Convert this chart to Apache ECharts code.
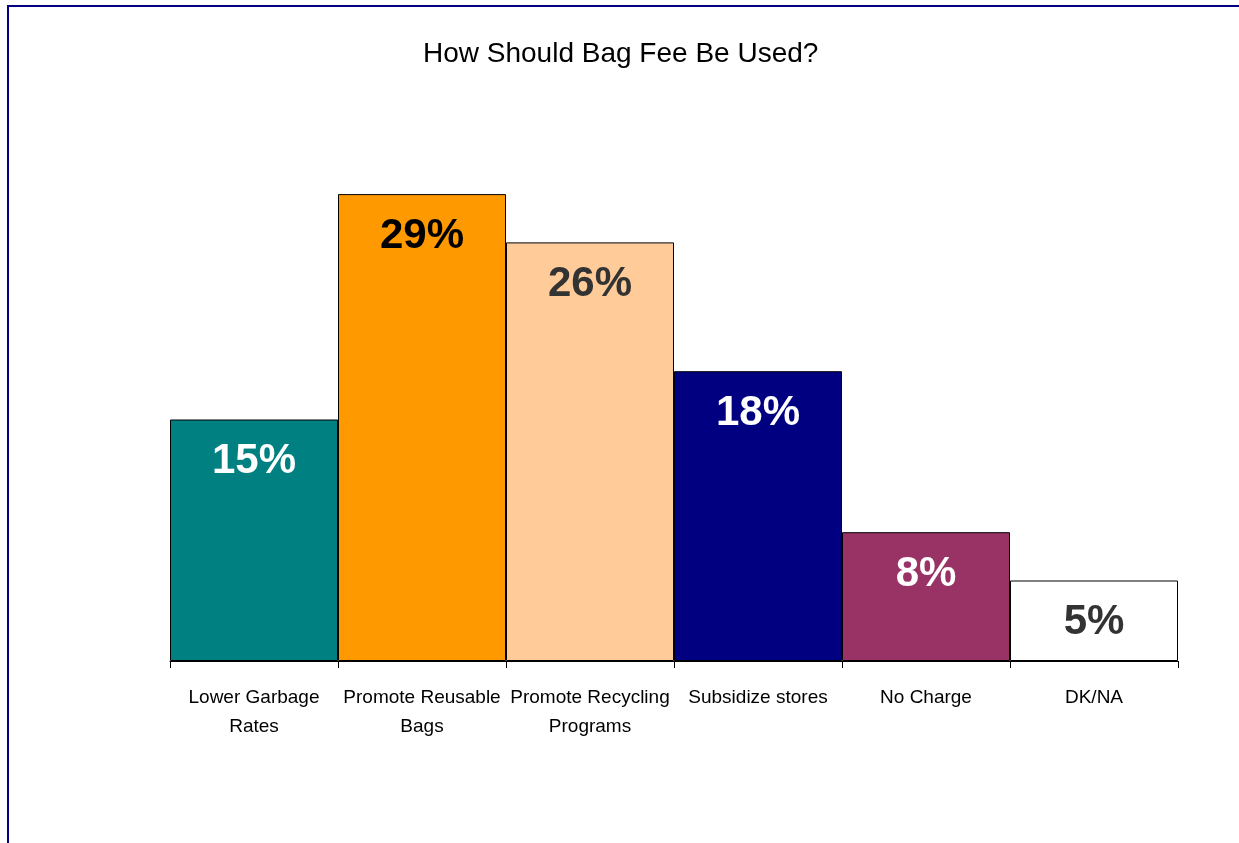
<!DOCTYPE html>
<html>
<head>
<meta charset="utf-8">
<script src="https://cdn.jsdelivr.net/npm/echarts@6/dist/echarts.min.js"></script>
<style>
  html, body { margin: 0; padding: 0; background: #fff; }
  #chart { width: 1239px; height: 843px; }
</style>
</head>
<body>
<div id="chart"></div>
<script>
// Survey answers: how the bag fee should be spent
const categories = ['Lower Garbage\nRates', 'Promote Reusable\nBags', 'Promote Recycling\nPrograms', 'Subsidize stores', 'No Charge', 'DK/NA'];
const shares = [15, 29, 26, 18, 8, 5];
const barColors = ['#008080', '#FF9900', '#FFCC99', '#000080', '#993366', '#FFFFFF'];
const labelColors = ['#FFFFFF', '#000000', '#333333', '#FFFFFF', '#FFFFFF', '#333333'];

const chart = echarts.init(document.getElementById('chart'), null, { renderer: 'canvas' });

chart.setOption({
  backgroundColor: '#FFFFFF',
  animation: false,
  title: {
    text: 'How Should Bag Fee Be Used?',
    left: 423,
    top: 40,
    padding: 0,
    textStyle: { fontFamily: 'Liberation Sans, Arial, sans-serif', fontSize: 28, fontWeight: 'normal', color: '#000' }
  },
  graphic: [{
    type: 'rect',
    shape: { x: 8, y: 6, width: 1400, height: 1000 },
    style: { fill: 'none', stroke: '#000080', lineWidth: 2 },
    silent: true
  }],
  grid: { left: 170, right: 61, top: 178, bottom: 182 },
  xAxis: {
    type: 'category',
    data: categories,
    axisLine: { lineStyle: { color: '#000', width: 1 } },
    axisTick: { show: true, length: 7, lineStyle: { color: '#000' } },
    axisLabel: {
      interval: 0,
      margin: 22,
      lineHeight: 29,
      fontFamily: 'Liberation Sans, Arial, sans-serif',
      fontSize: 19,
      color: '#000'
    }
  },
  yAxis: {
    type: 'value',
    min: 0,
    max: 30,
    show: false,
    splitLine: { show: false }
  },
  series: [{
    type: 'bar',
    barCategoryGap: 0,
    data: shares.map((v, i) => ({
      value: v,
      itemStyle: { color: barColors[i], borderColor: '#000', borderWidth: 1 },
      label: { color: labelColors[i] }
    })),
    label: {
      show: true,
      position: 'insideTop',
      distance: 21,
      formatter: p => p.value + '%',
      fontFamily: 'Liberation Sans, Arial, sans-serif',
      fontWeight: 'bold',
      fontSize: 42
    }
  }]
});
</script>
</body>
</html>
